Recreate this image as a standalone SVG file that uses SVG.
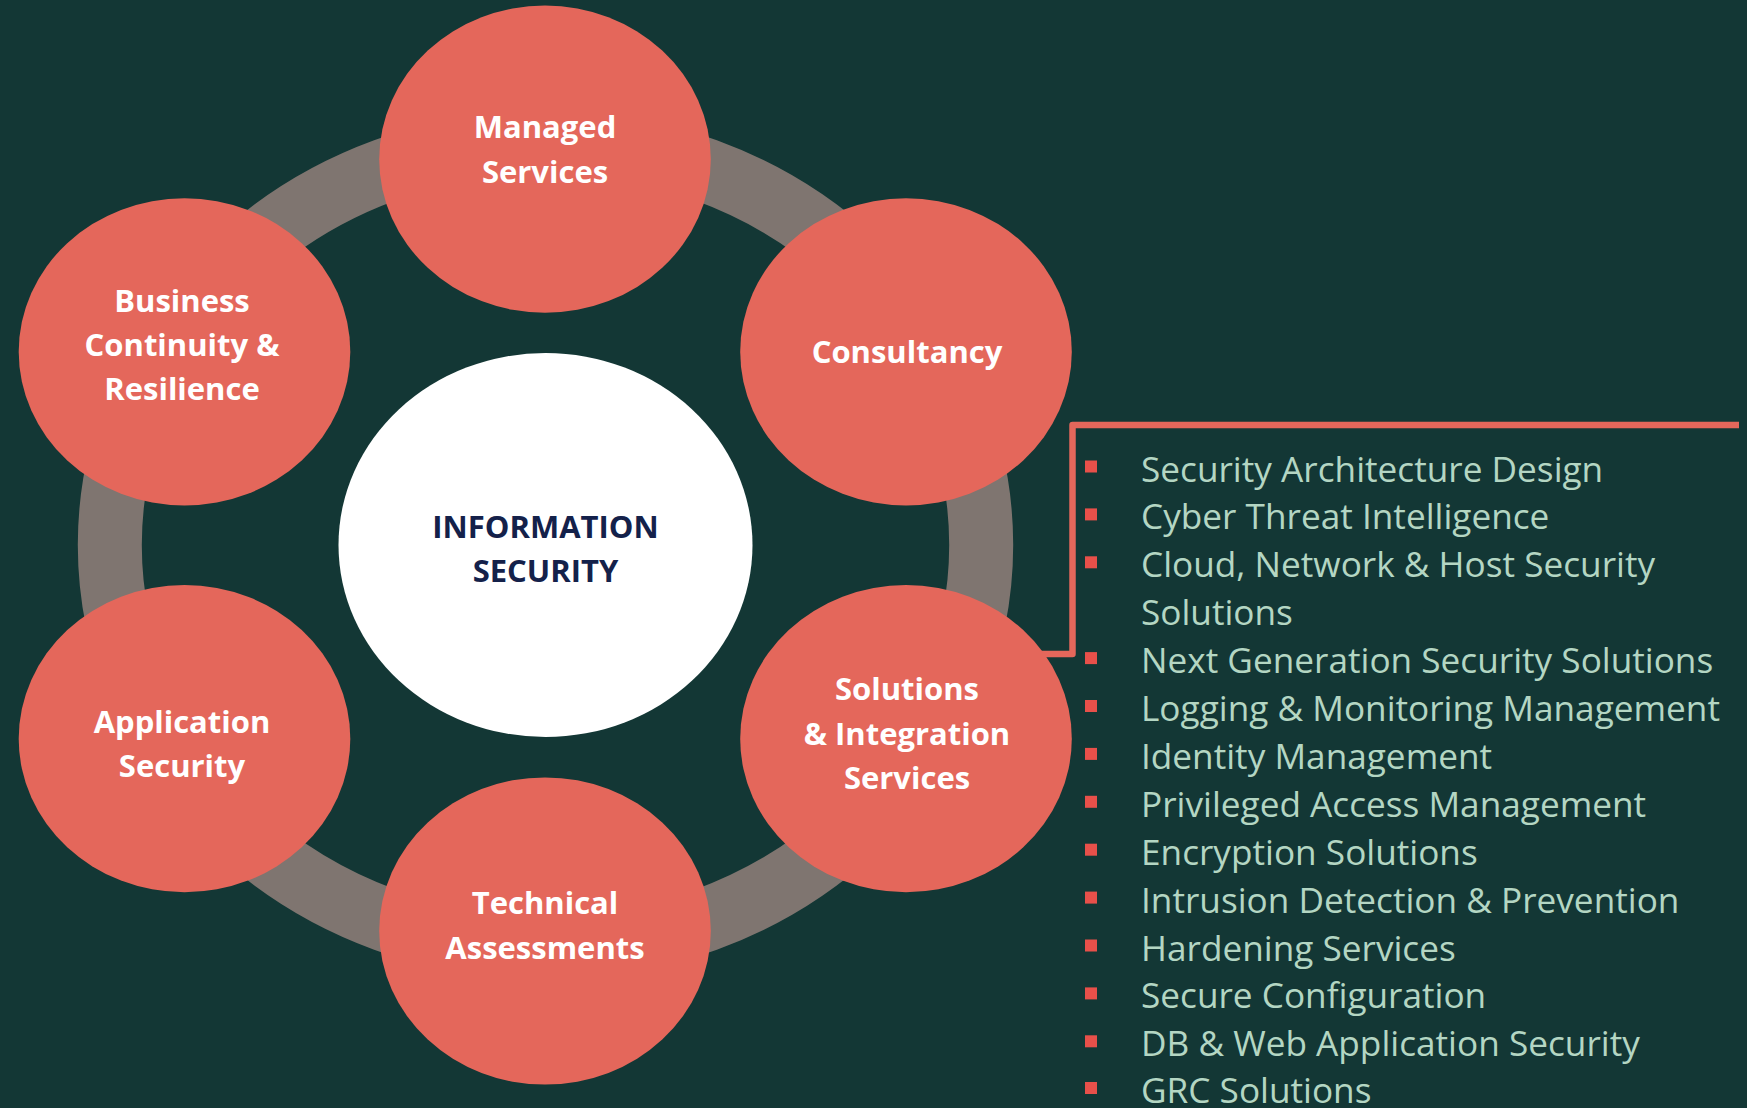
<svg xmlns="http://www.w3.org/2000/svg" width="1747" height="1108" viewBox="0 0 1747 1108">
<style>
.node{fill:#E4675B}
.nt{font-family:"Open Sans","Liberation Sans",sans-serif;font-weight:700;font-size:31px;fill:#FFFFFF;text-anchor:middle}
.ct{font-family:"Open Sans","Liberation Sans",sans-serif;font-weight:700;font-size:31px;fill:#14214A;text-anchor:middle}
.li{font-family:"Open Sans","Liberation Sans",sans-serif;font-size:35.2px;fill:#B4D6C3}
.bul{fill:#E8504A}
</style>
<rect x="0" y="0" width="1747" height="1108" fill="#133735"/>
<g id="connectors">
<ellipse id="ring" cx="545.5" cy="545" rx="435.7" ry="403" fill="none" stroke="#7F7570" stroke-width="64"/>
<path id="bracket" d="M1030 654 H1072.5 V425 H1739" fill="none" stroke="#E4675B" stroke-width="6.5" stroke-linejoin="round"/>
</g>
<g id="center">
<ellipse cx="545.5" cy="545" rx="207" ry="192" fill="#FFFFFF"/>
<text class="ct" x="545.5" y="538.3">INFORMATION</text>
<text class="ct" x="545.5" y="582.3">SECURITY</text>
</g>
<g id="managed">
<ellipse class="node" cx="545" cy="159.2" rx="165.8" ry="153.6"/>
<text class="nt" x="545" y="138">Managed</text>
<text class="nt" x="545" y="182.7">Services</text>
</g>
<g id="consultancy">
<ellipse class="node" cx="906" cy="351.8" rx="165.8" ry="153.6"/>
<text class="nt" x="907" y="363.4">Consultancy</text>
</g>
<g id="solutions">
<ellipse class="node" cx="906" cy="738.7" rx="165.8" ry="153.6"/>
<text class="nt" x="907" y="700">Solutions</text>
<text class="nt" x="907" y="745">&amp; Integration</text>
<text class="nt" x="907" y="789.2">Services</text>
</g>
<g id="technical">
<ellipse class="node" cx="545" cy="931" rx="165.8" ry="153.6"/>
<text class="nt" x="545" y="914">Technical</text>
<text class="nt" x="545" y="959">Assessments</text>
</g>
<g id="application">
<ellipse class="node" cx="184.5" cy="738.7" rx="165.8" ry="153.6"/>
<text class="nt" x="182" y="733">Application</text>
<text class="nt" x="182" y="777.3">Security</text>
</g>
<g id="business">
<ellipse class="node" cx="184.5" cy="351.8" rx="165.8" ry="153.6"/>
<text class="nt" x="182" y="312">Business</text>
<text class="nt" x="182" y="356">Continuity &amp;</text>
<text class="nt" x="182" y="400">Resilience</text>
</g>
<g id="list">
<rect class="bul" x="1085" y="460.5" width="12" height="12"/>
<text class="li" x="1141" y="481.5">Security Architecture Design</text>
<rect class="bul" x="1085" y="508.4" width="12" height="12"/>
<text class="li" x="1141" y="529.4">Cyber Threat Intelligence</text>
<rect class="bul" x="1085" y="556.3" width="12" height="12"/>
<text class="li" x="1141" y="577.3">Cloud, Network &amp; Host Security</text>
<text class="li" x="1141" y="625.2">Solutions</text>
<rect class="bul" x="1085" y="652.1" width="12" height="12"/>
<text class="li" x="1141" y="673.1">Next Generation Security Solutions</text>
<rect class="bul" x="1085" y="700" width="12" height="12"/>
<text class="li" x="1141" y="721">Logging &amp; Monitoring Management</text>
<rect class="bul" x="1085" y="747.9" width="12" height="12"/>
<text class="li" x="1141" y="768.9">Identity Management</text>
<rect class="bul" x="1085" y="795.8" width="12" height="12"/>
<text class="li" x="1141" y="816.8">Privileged Access Management</text>
<rect class="bul" x="1085" y="843.7" width="12" height="12"/>
<text class="li" x="1141" y="864.7">Encryption Solutions</text>
<rect class="bul" x="1085" y="891.6" width="12" height="12"/>
<text class="li" x="1141" y="912.6">Intrusion Detection &amp; Prevention</text>
<rect class="bul" x="1085" y="939.5" width="12" height="12"/>
<text class="li" x="1141" y="960.5">Hardening Services</text>
<rect class="bul" x="1085" y="987.4" width="12" height="12"/>
<text class="li" x="1141" y="1008.4">Secure Configuration</text>
<rect class="bul" x="1085" y="1035.3" width="12" height="12"/>
<text class="li" x="1141" y="1056.3">DB &amp; Web Application Security</text>
<rect class="bul" x="1085" y="1082" width="12" height="12"/>
<text class="li" x="1141" y="1103">GRC Solutions</text>
</g>
</svg>
